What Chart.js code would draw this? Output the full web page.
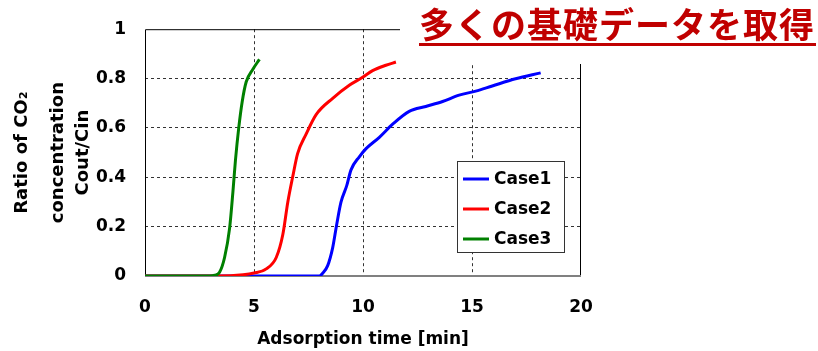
<!DOCTYPE html>
<html>
<head>
<meta charset="utf-8">
<script src="https://cdn.jsdelivr.net/npm/chart.js@4/dist/chart.umd.min.js"></script>
<style>
  body { margin: 0; background: #fff; }
  canvas { display: block; }
</style>
</head>
<body>
<canvas id="chart" width="818" height="351"></canvas>
<script>
// breakthrough curves
const case1Time  = [0, 8.0, 8.14, 8.38, 8.61, 8.79, 8.99, 9.25, 9.45, 9.83, 10.14, 10.75, 11.36, 12.12, 12.88, 13.65, 14.41, 15.17, 15.93, 17.0, 18.15];
const case1Ratio = [0, 0, 0.01, 0.042, 0.115, 0.207, 0.299, 0.365, 0.43, 0.483, 0.516, 0.562, 0.615, 0.667, 0.687, 0.707, 0.733, 0.749, 0.77, 0.799, 0.823];

const case2Time  = [0, 3.3, 4.5, 5.0, 5.56, 6.02, 6.32, 6.55, 6.78, 7.0, 7.39, 7.85, 8.61, 9.37, 9.98, 10.44, 11.05, 11.51];
const case2Ratio = [0, 0, 0.005, 0.012, 0.029, 0.075, 0.167, 0.299, 0.404, 0.496, 0.575, 0.654, 0.72, 0.773, 0.805, 0.832, 0.854, 0.867];

const case3Time  = [0, 2.97, 3.2, 3.42, 3.65, 3.88, 4.03, 4.15, 4.30, 4.46, 4.64, 4.95, 5.25];
const case3Ratio = [0, 0, 0.003, 0.015, 0.075, 0.193, 0.338, 0.47, 0.60, 0.707, 0.786, 0.838, 0.878];

const seriesNames = ['Case1', 'Case2', 'Case3'];
const seriesColors = ['#0000ff', '#ff0000', '#008000'];

const titleText = '多くの基礎データを取得';
const yTitleLines = ['Ratio of CO\u2082', 'concentration', 'Cout/Cin'];

const FONT = '"DejaVu Sans", sans-serif';

function pts(xs, ys) {
  return xs.map((x, i) => ({ x: x, y: ys[i] }));
}

const edgeColor = (ctx, lo, hi) =>
  (ctx.tick && (ctx.tick.value === lo || ctx.tick.value === hi)) ? 'rgba(0,0,0,0)' : '#333';

// frame around plot area (drawn over the dashed grid, under the curves)
const framePlugin = {
  id: 'frame',
  beforeDatasetsDraw(chart) {
    const { ctx, chartArea: a } = chart;
    ctx.save();
    ctx.strokeStyle = '#000';
    ctx.lineWidth = 1;
    ctx.beginPath();
    ctx.moveTo(a.left + 0.5, a.bottom);
    ctx.lineTo(a.left + 0.5, a.top + 0.5);
    ctx.lineTo(a.right - 0.5, a.top + 0.5);
    ctx.lineTo(a.right - 0.5, a.bottom);
    ctx.stroke();
    ctx.strokeStyle = '#808080';
    ctx.lineWidth = 2;
    ctx.beginPath();
    ctx.moveTo(a.left, a.bottom);
    ctx.lineTo(a.right, a.bottom);
    ctx.stroke();
    ctx.restore();
  }
};

// y title, legend box and the red heading
const extrasPlugin = {
  id: 'extras',
  afterDraw(chart) {
    const { ctx, chartArea: a } = chart;
    ctx.save();

    // y axis title, three rotated lines
    const cy = (a.top + a.bottom) / 2;
    const xs = [22, 58, 83];
    ctx.fillStyle = '#000';
    ctx.font = 'bold 18px ' + FONT;
    ctx.textAlign = 'center';
    ctx.textBaseline = 'middle';
    yTitleLines.forEach((t, i) => {
      ctx.save();
      ctx.translate(xs[i], cy);
      ctx.rotate(-Math.PI / 2);
      ctx.fillText(t, 0, 0);
      ctx.restore();
    });

    // legend
    const lx = 457, ly = 161, lw = 107, lh = 91;
    ctx.fillStyle = '#fff';
    ctx.fillRect(lx, ly, lw, lh);
    ctx.strokeStyle = '#333';
    ctx.lineWidth = 1;
    ctx.strokeRect(lx + 0.5, ly + 0.5, lw, lh);
    ctx.font = 'bold 17px ' + FONT;
    ctx.textAlign = 'left';
    chart.data.datasets.forEach((ds, i) => {
      const y = 179 + i * 30;
      ctx.strokeStyle = ds.borderColor;
      ctx.lineWidth = 3;
      ctx.beginPath();
      ctx.moveTo(463, y);
      ctx.lineTo(489, y);
      ctx.stroke();
      ctx.fillStyle = '#000';
      ctx.fillText(ds.label, 494, y + 1);
    });

    // heading on a white patch that hides the top right of the frame
    ctx.fillStyle = '#fff';
    ctx.fillRect(400, 0, 418, 64);
    ctx.fillStyle = '#c00000';
    ctx.font = 'bold 35px "Noto Sans CJK JP", sans-serif';
    ctx.textAlign = 'left';
    ctx.textBaseline = 'middle';
    ctx.letterSpacing = '1px';
    ctx.fillText(titleText, 419, 25);
    ctx.fillRect(419, 43, 397, 3);

    ctx.restore();
  }
};

new Chart(document.getElementById('chart'), {
  type: 'line',
  data: {
    datasets: [
      { label: seriesNames[0], data: pts(case1Time, case1Ratio), order: 3 },
      { label: seriesNames[1], data: pts(case2Time, case2Ratio), order: 2 },
      { label: seriesNames[2], data: pts(case3Time, case3Ratio), order: 1 }
    ].map((d, i) => Object.assign(d, {
      borderColor: seriesColors[i],
      backgroundColor: seriesColors[i],
      borderWidth: 3,
      pointRadius: 0,
      fill: false,
      cubicInterpolationMode: 'monotone'
    }))
  },
  options: {
    responsive: false,
    animation: false,
    devicePixelRatio: 1,
    layout: { padding: { left: 0, top: 22, right: 237, bottom: 0 } },
    plugins: {
      legend: { display: false },
      tooltip: { enabled: false }
    },
    scales: {
      x: {
        type: 'linear',
        min: 0,
        max: 20,
        afterFit(s) { s.height = 75; },
        ticks: { stepSize: 5, padding: 21, color: '#000', font: { family: FONT, size: 17, weight: 'bold' } },
        grid: { drawTicks: false, color: c => edgeColor(c, 0, 20) },
        border: { display: false, dash: [3, 3] },
        title: {
          display: true,
          text: 'Adsorption time [min]',
          color: '#000',
          font: { family: FONT, size: 17, weight: 'bold' },
          padding: { top: 0, bottom: 1 }
        }
      },
      y: {
        min: 0,
        max: 1,
        afterFit(s) { s.width = 145; },
        ticks: {
          stepSize: 0.2,
          padding: 19,
          color: '#000',
          font: { family: FONT, size: 17, weight: 'bold' },
          callback: v => String(Math.round(v * 10) / 10)
        },
        grid: { drawTicks: false, color: c => edgeColor(c, 0, 1) },
        border: { display: false, dash: [3, 3] }
      }
    }
  },
  plugins: [framePlugin, extrasPlugin]
});
</script>
</body>
</html>
